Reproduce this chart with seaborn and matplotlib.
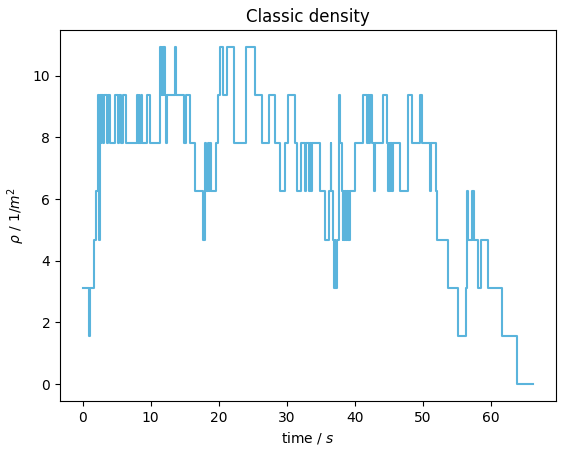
import matplotlib
matplotlib.use("Agg")
import matplotlib.pyplot as plt
import seaborn as sns
import pandas as pd

# time stamps (s) where the density changes, and density level (1/m^2) from that time on
time_s = [
    0.00, 0.95, 1.05, 1.72, 2.01, 2.22, 2.36, 2.45, 2.55, 2.65,
    2.75, 3.04, 3.19, 3.60, 3.68, 4.07, 4.80, 5.24, 5.39, 5.68, 5.97,
    6.37, 8.03, 8.13, 8.25, 8.35, 8.57, 8.67, 9.40, 9.94,
    11.36, 11.45, 11.55, 11.62, 11.72, 11.80, 11.90, 11.95, 12.04, 12.30, 12.44,
    13.60, 13.72, 14.83, 15.23, 15.81, 16.45, 17.62, 17.92, 18.02, 18.20, 18.40,
    18.60, 18.75, 18.85, 19.58, 19.88, 20.12, 20.56, 21.20, 22.25, 23.95, 25.26,
    26.34, 27.42, 28.30, 29.03, 29.77, 30.16, 31.14, 31.48, 32.11, 32.70, 32.85,
    33.30, 33.44, 33.60, 33.75, 34.90, 35.54, 36.22, 36.47, 36.55, 36.86, 37.00,
    37.10, 37.15, 37.40, 37.65, 37.70, 37.84, 38.09, 38.20, 38.30, 38.40, 38.55,
    38.65, 38.82, 38.95, 39.10, 39.20, 39.35, 39.95, 41.17, 41.76, 42.00, 42.10,
    42.15, 42.58, 42.85, 42.92, 44.20, 44.70, 44.84, 44.95, 45.05, 45.15, 45.25,
    45.35, 45.45, 45.67, 46.65, 47.78, 48.37, 49.59, 49.93, 51.06, 51.20, 51.90,
    52.04, 53.66, 55.12, 56.34, 56.49, 56.54, 56.68, 57.18, 57.30, 57.40, 57.56,
    58.15, 58.55, 58.65, 59.53, 61.58, 63.88, 66.23,
]
density = [
    3.125, 1.5625, 3.125, 4.6875, 6.25, 9.375, 7.8125, 4.6875, 9.375, 7.8125,
    9.375, 7.8125, 9.375, 7.8125, 9.375, 7.8125, 9.375, 7.8125, 9.375, 7.8125, 9.375,
    7.8125, 9.375, 7.8125, 9.375, 7.8125, 9.375, 7.8125, 9.375, 7.8125,
    9.375, 10.9375, 9.375, 10.9375, 9.375, 10.9375, 9.375, 10.9375, 9.375, 7.8125, 9.375,
    10.9375, 9.375, 7.8125, 9.375, 7.8125, 6.25, 4.6875, 6.25, 7.8125, 6.25, 7.8125,
    6.25, 7.8125, 6.25, 7.8125, 9.375, 10.9375, 9.375, 10.9375, 7.8125, 10.9375, 9.375,
    7.8125, 9.375, 7.8125, 6.25, 7.8125, 9.375, 7.8125, 6.25, 7.8125, 6.25, 7.8125,
    6.25, 7.8125, 6.25, 7.8125, 6.25, 4.6875, 6.25, 7.8125, 6.25, 4.6875, 3.125,
    4.6875, 3.125, 4.6875, 6.25, 9.375, 7.8125, 6.25, 4.6875, 6.25, 4.6875, 6.25,
    4.6875, 6.25, 4.6875, 6.25, 4.6875, 6.25, 7.8125, 9.375, 7.8125, 9.375, 7.8125,
    9.375, 7.8125, 6.25, 7.8125, 9.375, 7.8125, 6.25, 7.8125, 6.25, 7.8125, 6.25,
    7.8125, 6.25, 7.8125, 6.25, 9.375, 7.8125, 9.375, 7.8125, 6.25, 7.8125, 6.25,
    4.6875, 3.125, 1.5625, 3.125, 4.6875, 6.25, 4.6875, 6.25, 4.6875, 6.25, 4.6875,
    3.125, 4.6875, 4.6875, 3.125, 1.5625, 0.0, 0.0,
]

df = pd.DataFrame({"time": time_s, "density": density})

fig = plt.figure(figsize=(5.65, 4.54), dpi=100)
ax = fig.add_axes([60 / 565, 1 - 401 / 454, 496 / 565, 371 / 454])
sns.lineplot(data=df, x="time", y="density", ax=ax, estimator=None, sort=False,
             drawstyle="steps-post", color="#5AB4DC", linewidth=1.5)
ax.set_title("Classic density")
ax.set_xlabel("time / $s$")
ax.set_ylabel(r"$\rho$ / 1/$m^2$")
fig.savefig("out.png", dpi=100)
